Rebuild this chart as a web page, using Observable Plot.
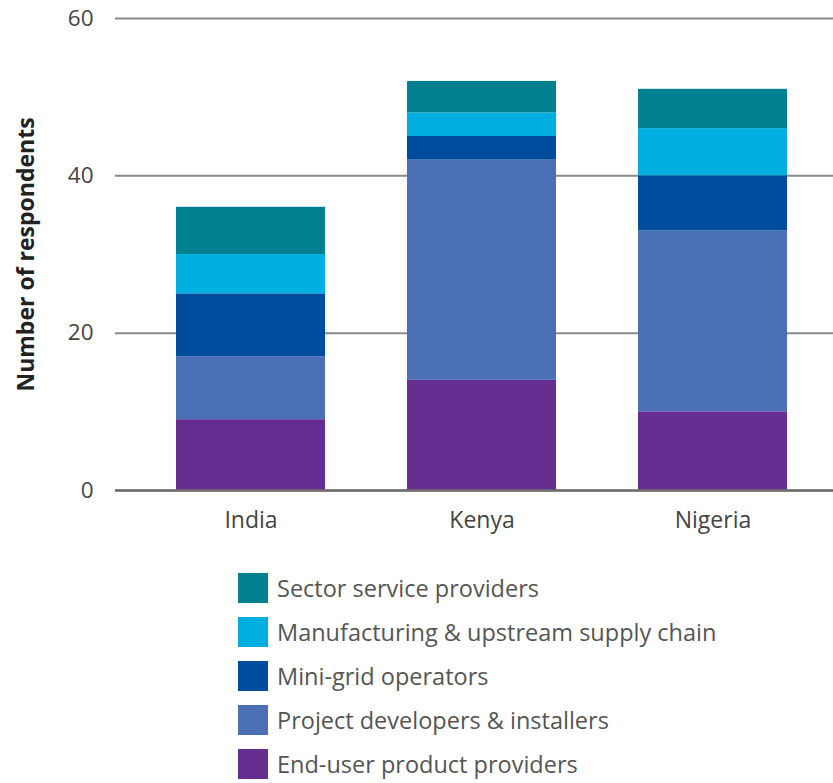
<!DOCTYPE html>
<html>
<head>
<meta charset="utf-8">
<script src="https://cdn.jsdelivr.net/npm/d3@7"></script>
<script src="https://cdn.jsdelivr.net/npm/@observablehq/plot@0.6"></script>
<style>
  html, body { margin: 0; padding: 0; background: #fff; }
  #wrap { position: relative; width: 833px; height: 783px; font-family: "Open Sans", sans-serif; }
  #legend { position: absolute; left: 238px; top: 573px; }
  .row { display: flex; align-items: center; height: 30px; margin-bottom: 14px; }
  .sw { width: 30px; height: 30px; margin-right: 9px; }
  .lb { font-size: 23.5px; color: #555; white-space: nowrap; }
</style>
</head>
<body>
<div id="wrap">
  <div id="chart"></div>
  <div id="legend"></div>
</div>
<script>
const countries = ["India", "Kenya", "Nigeria"];
const segments = [
  "End-user product providers",
  "Project developers & installers",
  "Mini-grid operators",
  "Manufacturing & upstream supply chain",
  "Sector service providers"
];
const colors = ["#662d91", "#4a6fb5", "#004c9c", "#00afe0", "#00818f"];
const endUser = [9, 14, 10];
const projectDevs = [8, 28, 23];
const miniGrid = [8, 3, 7];
const manufacturing = [5, 3, 6];
const sectorService = [6, 4, 5];
const yTicks = [0, 20, 40, 60];

const seriesValues = [endUser, projectDevs, miniGrid, manufacturing, sectorService];
const data = [];
segments.forEach((s, i) => {
  countries.forEach((c, j) => data.push({country: c, segment: s, value: seriesValues[i][j]}));
});

const chart = Plot.plot({
  width: 833,
  height: 550,
  marginTop: 18,
  marginBottom: 60,
  marginLeft: 115,
  marginRight: 0,
  style: {fontFamily: "Open Sans, sans-serif", background: "#fff"},
  x: {domain: countries, range: [115, 849], paddingInner: 0.3534, paddingOuter: 0.2586},
  y: {domain: [0, 60]},
  color: {domain: segments, range: colors},
  marks: [
    Plot.ruleY(yTicks, {stroke: "#8a8a8a", strokeWidth: 2}),
    Plot.barY(data, Plot.stackY({order: segments}, {x: "country", y: "value", fill: "segment"})),
    Plot.ruleY([0], {stroke: "#6e6e6e", strokeWidth: 2.5}),
    Plot.axisY({ticks: yTicks, tickSize: 0, tickPadding: 22, fontSize: 22.5, color: "#444",
      label: "Number of respondents", labelAnchor: "center", labelArrow: "none", labelOffset: 98}),
    Plot.axisX({tickSize: 0, tickPadding: 21, fontSize: 23, color: "#444", label: null})
  ]
});
chart.querySelectorAll("text").forEach(t => {
  if (t.textContent === "Number of respondents") {
    t.setAttribute("font-weight", "bold");
    t.setAttribute("font-size", "23");
    t.setAttribute("fill", "#222");
  }
});
document.getElementById("chart").appendChild(chart);

const legend = document.getElementById("legend");
segments.slice().reverse().forEach((s) => {
  const i = segments.indexOf(s);
  const row = document.createElement("div");
  row.className = "row";
  row.innerHTML = `<div class="sw" style="background:${colors[i]}"></div><div class="lb"></div>`;
  row.querySelector(".lb").textContent = s;
  legend.appendChild(row);
});
</script>
</body>
</html>
